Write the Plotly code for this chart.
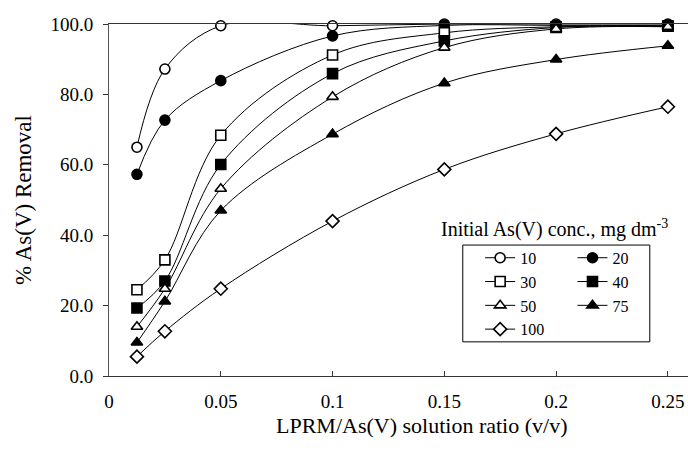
import plotly.graph_objects as go

ratio = [0.0125, 0.025, 0.05, 0.1, 0.15, 0.2, 0.25]
conc_labels = ["10", "20", "30", "40", "50", "75", "100"]
rem_10 = [65.0, 87.2, 99.5, 99.5, 100.0, 100.0, 100.0]
rem_20 = [57.3, 72.7, 83.9, 96.6, 99.6, 99.6, 99.6]
rem_30 = [24.5, 33.0, 68.4, 91.2, 97.5, 99.2, 99.4]
rem_40 = [19.3, 27.0, 60.1, 85.9, 95.2, 99.0, 99.4]
rem_50 = [14.0, 24.8, 53.2, 79.3, 93.3, 98.6, 99.2]
rem_75 = [9.5, 21.2, 47.0, 68.7, 83.2, 89.9, 93.8]
rem_100 = [5.5, 12.7, 24.8, 44.0, 58.7, 68.8, 76.5]

series = [rem_10, rem_20, rem_30, rem_40, rem_50, rem_75, rem_100]
symbols = ["circle", "circle", "square", "square", "triangle-up", "triangle-up", "diamond"]
fills = ["white", "black", "white", "black", "white", "black", "white"]
legend_ids = ["legend", "legend2", "legend", "legend2", "legend", "legend2", "legend"]

FONT = "Liberation Serif, Times New Roman, serif"

fig = go.Figure()
for lab, ys, sym, fc, lg in zip(conc_labels, series, symbols, fills, legend_ids):
    fig.add_trace(go.Scatter(
        x=ratio, y=ys, name=lab, mode="lines+markers",
        line=dict(color="black", width=1, shape="spline", smoothing=1.0),
        marker=dict(symbol=sym, size=10, color=fc,
                    line=dict(color="black", width=1.6)),
        cliponaxis=False, legend=lg,
    ))

fig.update_layout(
    width=688, height=459,
    margin=dict(l=109, r=0, t=24, b=83),
    paper_bgcolor="white", plot_bgcolor="white",
    font=dict(family=FONT, size=19, color="black"),
    xaxis=dict(range=[0, 0.259], dtick=0.05, tick0=0, showgrid=False, zeroline=False,
               showline=True, linecolor="#333", linewidth=1, mirror=True,
               ticks="inside", ticklen=5, tickcolor="#333", automargin=False,
               ticklabelstandoff=8),
    yaxis=dict(range=[0, 100], dtick=20, tickformat=".1f", showgrid=False, zeroline=False,
               showline=True, linecolor="#555", linewidth=1,
               ticks="outside", ticklen=5, tickcolor="#333", automargin=False,
               ticklabelstandoff=6,
               title=dict(text="% As(V) Removal", standoff=12)),
    legend=dict(x=0.641, y=0.384, xanchor="left", yanchor="top", bgcolor="rgba(0,0,0,0)",
                font=dict(family=FONT, size=16), borderwidth=0, tracegroupgap=0),
    legend2=dict(x=0.8005, y=0.384, xanchor="left", yanchor="top", bgcolor="rgba(0,0,0,0)",
                 font=dict(family=FONT, size=16), borderwidth=0, tracegroupgap=0),
    showlegend=True,
)

fig.add_shape(type="rect", xref="paper", yref="paper", x0=0.611, x1=0.934, y0=0.097, y1=0.372,
              line=dict(color="black", width=1))
fig.add_annotation(xref="paper", yref="paper", x=0.770, y=0.42, showarrow=False,
                   text="Initial As(V) conc., mg dm<sup>-3</sup>",
                   font=dict(family=FONT, size=20), xanchor="center", yanchor="middle")
fig.add_annotation(xref="paper", yref="paper", x=0.541, y=-0.142, showarrow=False,
                   text="LPRM/As(V) solution ratio (v/v)",
                   font=dict(family=FONT, size=22), xanchor="center", yanchor="middle")

fig.write_html("out.html", post_script="document.body.style.margin='0px';",
               config={"displayModeBar": False})
